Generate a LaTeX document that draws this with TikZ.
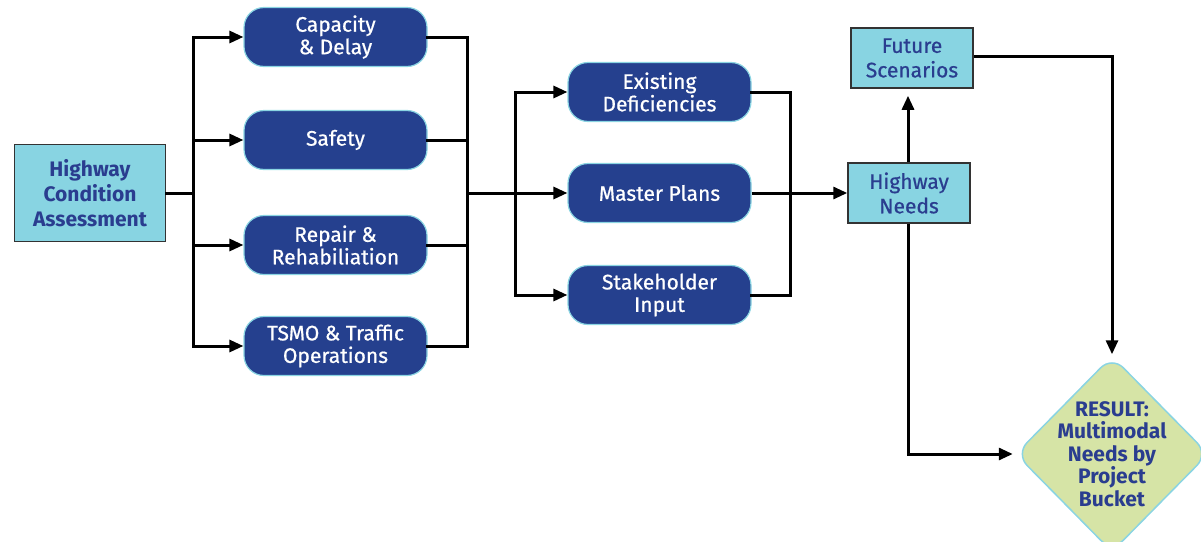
\documentclass[tikz,border=0pt]{standalone}
\usepackage{fontspec}
\setmainfont{Fira Sans}
\newfontfamily\medfont{Fira Sans}[FakeBold=0.7]
\usetikzlibrary{arrows.meta,shapes.geometric}
\definecolor{navy}{HTML}{25408E}
\definecolor{cyanfill}{HTML}{88D4E2}
\definecolor{cyanedge}{HTML}{8AD4E2}
\definecolor{txtblue}{HTML}{2A3D8F}
\definecolor{greenfill}{HTML}{D6E4A6}
\tikzset{
  bluebox/.style={draw=cyanedge, line width=1.2pt, fill=navy, rounded corners=20pt,
    minimum width=183pt, minimum height=59pt, inner sep=0pt, align=center,
    text=white, font=\medfont\fontsize{21}{22.5}\selectfont},
  cyanbox/.style={draw=black!80, line width=1.5pt, fill=cyanfill, inner sep=0pt,
    align=center, text=txtblue, font=\medfont\fontsize{21}{24.5}\selectfont},
  resbox/.style={diamond, draw=cyanedge, line width=1.5pt, fill=greenfill, rounded corners=16pt,
    minimum width=193pt, minimum height=196pt, inner sep=0pt},
  restext/.style={align=center, inner sep=0pt,
    text=txtblue, font=\bfseries\fontsize{21}{22.5}\selectfont},
  conn/.style={line width=3pt, line cap=rect},
  arr/.style={conn, -{Triangle[length=14pt,width=12pt]}, line cap=butt},
}
\begin{document}
\begin{tikzpicture}[x=1pt,y=-1pt]
\useasboundingbox (0,0) rectangle (1201,541);
% nodes
\node[cyanbox, minimum width=151pt, minimum height=97pt, font=\bfseries\fontsize{21}{25}\selectfont] (hca) at (90,193) {Highway\\Condition\\Assessment};
\node[bluebox] (cap) at (335.5,37) {Capacity\\\& Delay};
\node[bluebox] (saf) at (335.5,140) {Safety};
\node[bluebox] (rep) at (335.5,245) {Repair \&\\Rehabiliation};
\node[bluebox] (tsmo) at (335.5,346) {TSMO \& Traffic\\Operations};
\node[bluebox] (ed) at (659.5,92) {Existing\\Deficiencies};
\node[bluebox] (mp) at (659.5,193) {Master Plans};
\node[bluebox] (sh) at (659.5,295) {Stakeholder\\Input};
\node[cyanbox, minimum width=122pt, minimum height=60pt] (hn) at (909,193) {Highway\\Needs};
\node[cyanbox, minimum width=122pt, minimum height=60pt] (fs) at (912,58) {Future\\Scenarios};
\node[resbox] (res) at (1112,454) {};
\node[restext] (rest) at (res.center) {RESULT:\\Multimodal\\Needs by\\Project\\Bucket};
% junctions
\coordinate (j1) at (193,193);
\coordinate (j2) at (467,193);
\coordinate (j3) at (515,193);
\coordinate (j4) at (790,193);
% left fan-out
\draw[conn] (hca.east) -- (j1);
\draw[arr] (j1) |- (cap.west);
\draw[arr] (j1) |- (saf.west);
\draw[arr] (j1) |- (rep.west);
\draw[arr] (j1) |- (tsmo.west);
% collect
\draw[conn] (cap.east) -| (j2);
\draw[conn] (saf.east) -| (j2);
\draw[conn] (rep.east) -| (j2);
\draw[conn] (tsmo.east) -| (j2);
\draw[arr] (j2) -- (mp.west);
\draw[arr] (j3) |- (ed.west);
\draw[arr] (j3) |- (sh.west);
% collect middle
\draw[conn] (ed.east) -| (j4);
\draw[conn] (sh.east) -| (j4);
\draw[arr] (mp.east) -- (hn.west);
% right
\draw[arr, shorten >=7pt] (hn.north -| 908,0) -- (fs.south -| 908,0);
\draw[arr, shorten >=1pt] (fs.east |- 0,56) -| (res.north);
\draw[arr, shorten >=2pt] (hn.south -| 908,0) |- (res.west);
\end{tikzpicture}
\end{document}
